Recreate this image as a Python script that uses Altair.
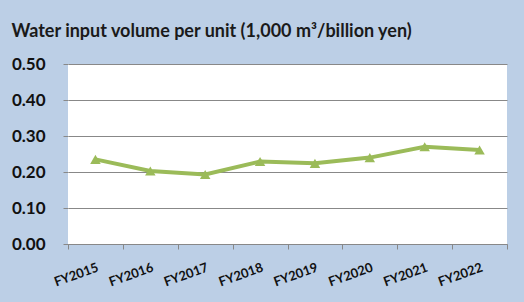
import altair as alt
import pandas as pd

years = ["FY2015", "FY2016", "FY2017", "FY2018", "FY2019", "FY2020", "FY2021", "FY2022"]
values = [0.235, 0.203, 0.193, 0.229, 0.224, 0.240, 0.270, 0.261]

df = pd.DataFrame({"year": years, "value": values})

FONT = "Lato"
GREEN = "#9bbb59"

base = alt.Chart(df).encode(
    x=alt.X("year:N", sort=years, title=None,
            scale=alt.Scale(paddingInner=0, paddingOuter=0),
            axis=alt.Axis(labelAngle=-20, labelAlign="right", labelBaseline="top",
                          labelFont=FONT, labelFontSize=13, labelFontWeight="bold",
                          labelColor="#111111", labelPadding=12, tickBand="extent",
                          tickSize=5, tickColor="#888888", domainColor="#888888",
                          grid=False)),
    y=alt.Y("value:Q", title=None,
            scale=alt.Scale(domain=[0, 0.5]),
            axis=alt.Axis(values=[0, 0.1, 0.2, 0.3, 0.4, 0.5], format=".2f",
                          labelFont=FONT, labelFontSize=17, labelFontWeight="bold",
                          labelColor="#111111", labelPadding=18, tickSize=5,
                          tickColor="#888888", gridColor="#888888", domain=False)),
)

line = base.mark_line(color=GREEN, strokeWidth=4)
pts = base.mark_point(shape="triangle-up", filled=True, color=GREEN, size=110, opacity=1)

chart = (line + pts).properties(
    width=439, height=180,
    autosize=alt.AutoSizeParams(type="none"),
    padding={"left": 68, "top": 64, "right": 17, "bottom": 58},
    title=alt.TitleParams("Water input volume per unit (1,000 m³/billion yen)",
                          anchor="start", font=FONT, fontSize=18, fontWeight="bold",
                          color="#1a1a1a", offset=14),
).configure(background="#bccfe6").configure_view(fill="white", stroke=None)

chart.save("out.html", embed_options={"renderer": "svg", "actions": False})
